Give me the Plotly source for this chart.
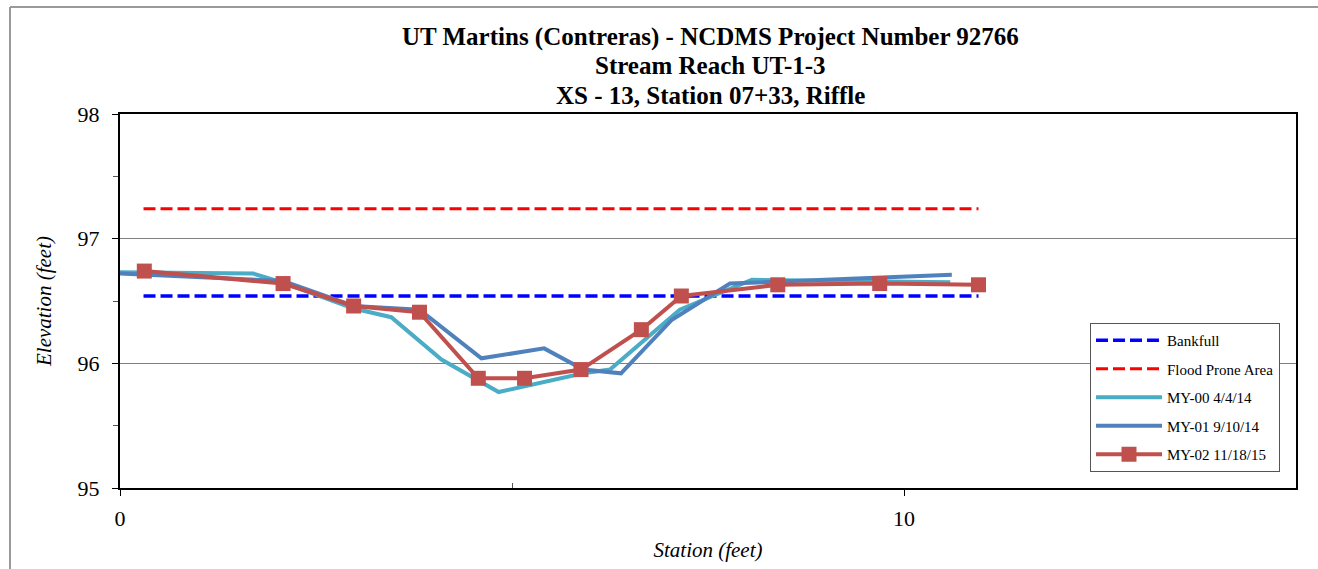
import plotly.graph_objects as go

# ---- data ----
bank_x = [0.3, 10.95]
bank_y = [96.54, 96.54]
flood_x = [0.3, 10.95]
flood_y = [97.24, 97.24]

my00_x = [0.0, 1.70, 2.07, 2.98, 3.46, 4.10, 4.83, 5.91, 6.25, 6.72, 7.14, 7.56, 8.06, 10.59]
my00_y = [96.73, 96.72, 96.65, 96.44, 96.37, 96.03, 95.77, 95.92, 95.95, 96.20, 96.43, 96.54, 96.67, 96.65]

my01_x = [0.0, 2.08, 2.98, 3.82, 4.61, 5.41, 5.91, 6.39, 7.04, 7.78, 10.61]
my01_y = [96.72, 96.66, 96.46, 96.43, 96.04, 96.12, 95.95, 95.92, 96.35, 96.64, 96.71]

my02_x = [0.31, 2.08, 2.98, 3.82, 4.57, 5.16, 5.88, 6.65, 7.16, 8.39, 9.69, 10.95]
my02_y = [96.74, 96.64, 96.46, 96.41, 95.88, 95.88, 95.95, 96.27, 96.54, 96.63, 96.64, 96.63]

title_lines = ["UT Martins (Contreras) - NCDMS Project Number 92766",
               "Stream Reach UT-1-3",
               "XS - 13, Station 07+33, Riffle"]

FONT = "'Liberation Serif', 'Times New Roman', serif"

fig = go.Figure()
fig.add_trace(go.Scatter(x=bank_x, y=bank_y, mode="lines", name="Bankfull",
                         legendgroup="a",
                         line=dict(color="#0000FF", width=3.5, dash="12px,5px")))
fig.add_trace(go.Scatter(x=flood_x, y=flood_y, mode="lines", name="Flood Prone Area",
                         legendgroup="b",
                         line=dict(color="#FF0000", width=3, dash="12px,5px")))
fig.add_trace(go.Scatter(x=my00_x, y=my00_y, mode="lines", name="MY-00 4/4/14",
                         legendgroup="c",
                         line=dict(color="#4BACC6", width=4)))
fig.add_trace(go.Scatter(x=my01_x, y=my01_y, mode="lines", name="MY-01 9/10/14",
                         legendgroup="d",
                         line=dict(color="#4F81BD", width=4)))
fig.add_trace(go.Scatter(x=my02_x, y=my02_y, mode="lines+markers", name="MY-02 11/18/15",
                         legendgroup="e",
                         line=dict(color="#C0504D", width=4),
                         marker=dict(symbol="square", size=15, color="#C0504D")))

axis_common = dict(showline=True, linecolor="black", linewidth=2, mirror=True,
                   zeroline=False, tickfont=dict(family=FONT, size=22, color="black"),
                   ticks="outside", tickcolor="black", ticklen=6)

fig.update_xaxes(range=[0, 15], tickvals=[0, 10], showgrid=False, ticklabelstandoff=4,
                 minor=dict(tickvals=[5], ticks="inside", ticklen=5, tickcolor="#555"),
                 title=dict(text="<i>Station (feet)</i>", font=dict(family=FONT, size=21, color="black"),
                            standoff=12),
                 **axis_common)
fig.update_yaxes(range=[95, 98], tickvals=[95, 96, 97, 98], showgrid=True, ticklabelstandoff=8,
                 gridcolor="#7f7f7f", gridwidth=1,
                 minor=dict(tickvals=[95.5, 96.5, 97.5], ticks="outside", ticklen=5, tickcolor="#555",
                            showgrid=False),
                 title=dict(text="<i>Elevation (feet)</i>", font=dict(family=FONT, size=21, color="black"),
                            standoff=20),
                 **axis_common)

annotations = []
for i, t in enumerate(title_lines):
    annotations.append(dict(text="<b>" + t + "</b>", xref="paper", yref="paper",
                            x=0.502, y=(488 - (37 + 29 * i)) / 374, xanchor="center", yanchor="middle",
                            showarrow=False, font=dict(family=FONT, size=25, color="black")))

shapes = [
    dict(type="line", xref="paper", yref="paper", x0=(10 - 120) / 1176, x1=1.2,
         y0=(488 - 7) / 374, y1=(488 - 7) / 374, line=dict(color="#9a9a9a", width=2)),
    dict(type="line", xref="paper", yref="paper", x0=(10 - 120) / 1176, x1=(10 - 120) / 1176,
         y0=(488 - 7) / 374, y1=-0.3, line=dict(color="#9a9a9a", width=2)),
]

fig.update_layout(
    width=1318, height=569,
    margin=dict(l=120, r=22, t=114, b=81),
    plot_bgcolor="white", paper_bgcolor="white",
    font=dict(family=FONT, color="black"),
    annotations=annotations, shapes=shapes,
    legend=dict(x=(1090 - 120) / 1176, y=(488 - 323) / 374, xanchor="left", yanchor="top",
                bgcolor="white", bordercolor="#555", borderwidth=1,
                font=dict(family=FONT, size=15, color="black"),
                itemwidth=66,
                tracegroupgap=6, traceorder="grouped"),
    showlegend=True,
)

fig.write_html("out.html", post_script="document.body.style.margin='0';",
               config={"displayModeBar": False})
